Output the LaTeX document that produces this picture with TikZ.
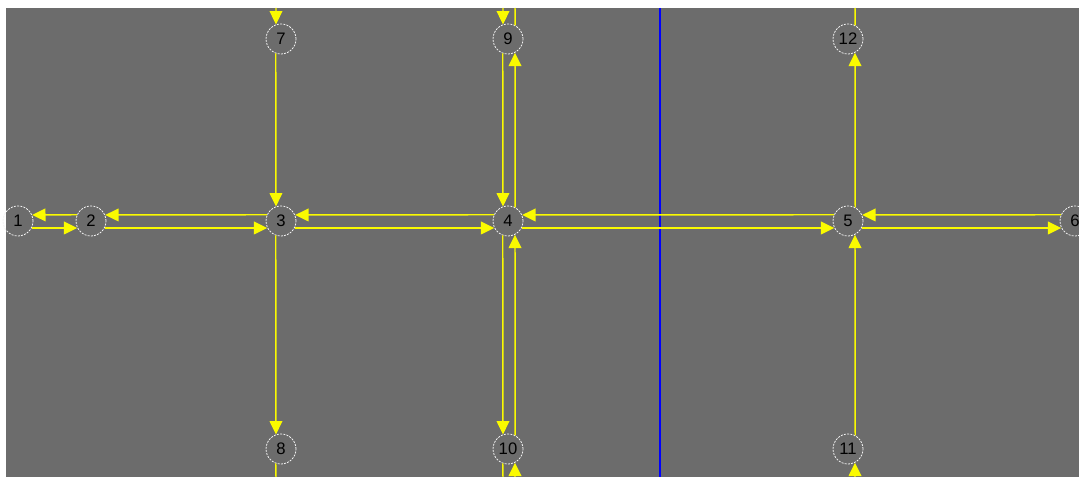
\documentclass[tikz,border=0pt]{standalone}
\usepackage{fontspec}
\setmainfont{Liberation Sans}
\usetikzlibrary{arrows.meta}
\definecolor{bg}{RGB}{108,108,108}
\definecolor{ln}{RGB}{250,250,0}
\begin{document}
\begin{tikzpicture}[x=0.75pt,y=-0.75pt,
  nd/.style={circle, draw=white!90!gray, dash pattern=on 1.5pt off 0.9pt, line width=0.6pt,
    minimum size=22.5pt, inner sep=0pt, text=black, font=\fontsize{12.5}{13}\selectfont},
  ed/.style={draw=ln, line width=1.1pt, -{Triangle[length=10pt,width=9.5pt]}},
  plain/.style={draw=ln, line width=1.1pt}]
\useasboundingbox (0,0) rectangle (1079,477);
\clip (0,0) rectangle (1079,477);
\fill[white] (0,0) rectangle (1079,477);
\fill[bg] (6,8) rectangle (1079,477);
\draw[blue, line width=1.1pt] (660,8) -- (660,477);
% nodes
\node[nd] (n1) at (18,221) {1};
\node[nd] (n2) at (91,221) {2};
\node[nd] (n3) at (281,221) {3};
\node[nd] (n4) at (508,221) {4};
\node[nd] (n5) at (848,221) {5};
\node[nd] (n6) at (1075,221) {6};
\node[nd] (n7) at (281,39) {7};
\node[nd] (n8) at (281,449) {8};
\node[nd] (n9) at (508,39) {9};
\node[nd] (n10) at (508,449) {10};
\node[nd] (n11) at (848,449) {11};
\node[nd] (n12) at (848,39) {12};
% free ends
\coordinate (t7) at (276,8);
\coordinate (b8) at (276,477);
\coordinate (t9a) at (503,8);
\coordinate (t9b) at (515,8);
\coordinate (b10a) at (503,477);
\coordinate (b10b) at (515,477);
\coordinate (t12) at (855,8);
\coordinate (b11) at (855,477);
% horizontal, leftward (upper)
\draw[ed] (n2.156.4) -- (n1.23.6);
\draw[ed] (n3.156.4) -- (n2.23.6);
\draw[ed] (n4.156.4) -- (n3.23.6);
\draw[ed] (n5.156.4) -- (n4.23.6);
\draw[ed] (n6.156.4) -- (n5.23.6);
% horizontal, rightward (lower)
\draw[ed] (n1.-27.8) -- (n2.207.8);
\draw[ed] (n2.-27.8) -- (n3.207.8);
\draw[ed] (n3.-27.8) -- (n4.207.8);
\draw[ed] (n4.-27.8) -- (n5.207.8);
\draw[ed] (n5.-27.8) -- (n6.207.8);
% column 3
\draw[ed] (t7) -- (n7.109.5);
\draw[ed] (n7.250.5) -- (n3.109.5);
\draw[ed] (n3.250.5) -- (n8.109.5);
\draw[plain] (n8.250.5) -- (b8);
% column 4
\draw[ed] (t9a) -- (n9.109.5);
\draw[plain] (n9.62.2) -- (t9b);
\draw[ed] (n9.250.5) -- (n4.109.5);
\draw[ed] (n4.62.2) -- (n9.297.8);
\draw[ed] (n4.250.5) -- (n10.109.5);
\draw[ed] (n10.62.2) -- (n4.297.8);
\draw[plain] (n10.250.5) -- (b10a);
\draw[ed] (b10b) -- (n10.297.8);
% column 5
\draw[ed] (b11) -- (n11.297.8);
\draw[ed] (n11.62.2) -- (n5.297.8);
\draw[ed] (n5.62.2) -- (n12.297.8);
\draw[plain] (n12.62.2) -- (t12);
\end{tikzpicture}
\end{document}
